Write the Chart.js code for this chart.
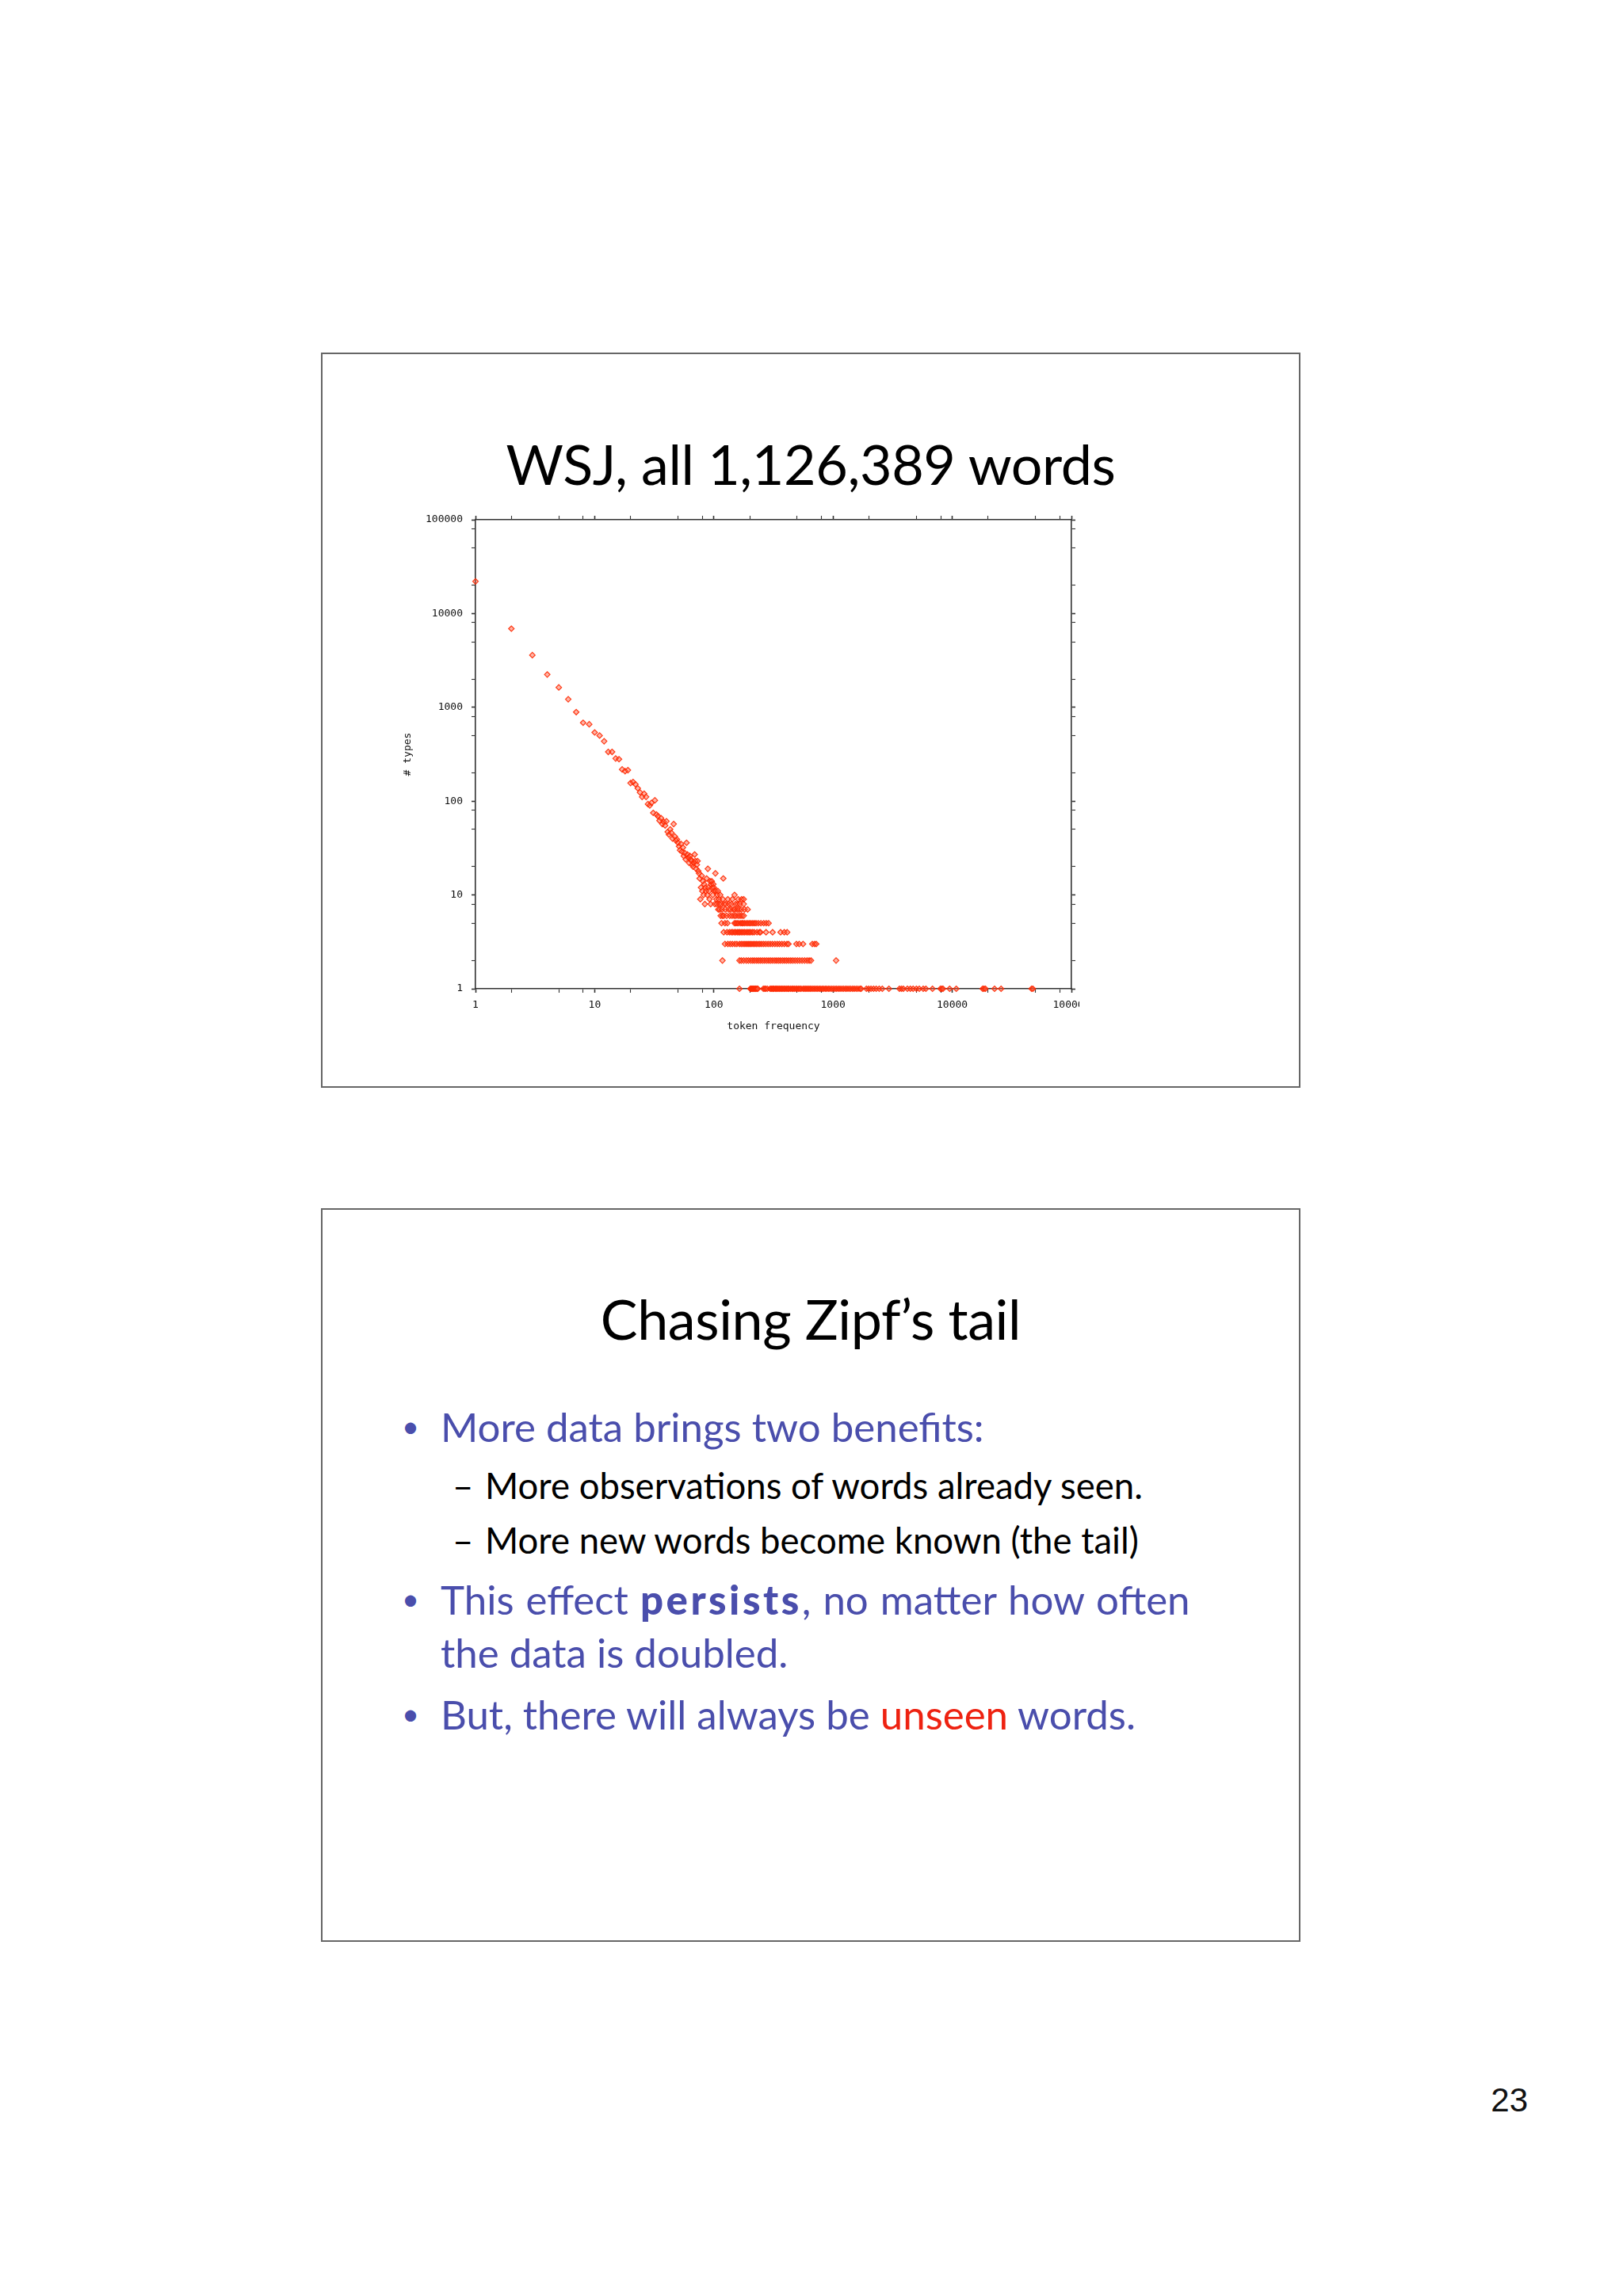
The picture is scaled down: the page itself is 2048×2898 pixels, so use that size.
<!DOCTYPE html>
<html>
<head>
<meta charset="utf-8">
<script src="https://cdn.jsdelivr.net/npm/chart.js@4.4.1/dist/chart.umd.min.js"></script>
<style>
html, body { margin: 0; padding: 0; background: #fff; }
body { width: 2048px; height: 2898px; position: relative; overflow: hidden; font-family: Lato, "Open Sans", sans-serif; }
.slide { position: absolute; left: 405px; width: 1236px; box-sizing: border-box; border: 2px solid #666; background: #fff; }
#s1 { top: 445px; height: 928px; }
#s2 { top: 1525px; height: 926px; }
.t { position: absolute; line-height: 1; white-space: nowrap; color: #000; }
.title { font-size: 70px; letter-spacing: -0.4px; left: 405px; width: 1236px; text-align: center; }
.blue { color: #4a4eac; }
.l1 { font-size: 51px; }
.l2 { font-size: 45.5px; }
.dot { font-size: 38px; }
.red { color: #ee2211; }
.heavy { font-weight: 900; letter-spacing: 3.5px; }
#chartBox { position: absolute; left: 500px; top: 620px; width: 862px; height: 700px; overflow: hidden; }
#pageNum { position: absolute; right: 120px; top: 2630px; font: 42px "Liberation Sans", Arial, sans-serif; line-height: 1; color: #111; }
</style>
</head>
<body>
<div class="slide" id="s1"></div>
<div class="slide" id="s2"></div>

<div class="t title" style="top:550px">WSJ, all 1,126,389 words</div>
<div id="chartBox"><canvas id="zipfChart" width="1000" height="700"></canvas></div>

<div class="t title" style="top:1629px">Chasing Zipf’s tail</div>
<div class="t dot blue" style="left:507px;top:1780px">•</div>
<div class="t l1 blue" style="left:556px;top:1775px">More data brings two benefits:</div>
<div class="t l2" style="left:571px;top:1852px">–</div>
<div class="t l2" style="left:612px;top:1852px">More observations of words already seen.</div>
<div class="t l2" style="left:571px;top:1921px">–</div>
<div class="t l2" style="left:612px;top:1921px">More new words become known (the tail)</div>
<div class="t dot blue" style="left:507px;top:1998px">•</div>
<div class="t l1 blue" style="left:556px;top:1993px;word-spacing:2px">This effect <span class="heavy">persists</span>, no matter how often</div>
<div class="t l1 blue" style="left:556px;top:2060px">the data is doubled.</div>
<div class="t dot blue" style="left:507px;top:2143px">•</div>
<div class="t l1 blue" style="left:556px;top:2138px">But, there will always be <span class="red">unseen</span> words.</div>

<div id="pageNum">23</div>

<script>
// token frequency -> number of word types with that frequency
const headFreq = [
    1, 2, 3, 4, 5, 6, 7, 8, 9, 10,
    11, 12, 13, 14, 15, 16, 17, 18, 19, 20,
    21, 22, 23, 24, 25, 26, 27, 28, 29, 30,
    31, 32, 33, 34, 35, 36, 37, 38, 39, 40,
    41, 42, 43, 44, 45, 46, 47, 48, 49, 50,
    51, 52, 53, 54, 55, 56, 57, 58, 59, 60,
    61, 62, 63, 64, 65, 66, 67, 68, 69, 70,
    71, 72, 73, 74, 75, 76, 77, 78, 79, 80,
    81, 82, 83, 84, 85, 86, 87, 88, 89, 90,
    91, 92, 93, 94, 95, 96, 97, 98, 99, 100,
    101, 102, 103, 104, 105, 106, 107, 108, 109, 110,
    111, 112, 113, 114, 115, 116, 117, 118, 119, 120
];
const headTypes = [
    22000, 6900, 3600, 2240, 1630, 1220, 890, 685, 660, 540,
    500, 435, 335, 335, 285, 280, 218, 209, 214, 156,
    160, 151, 137, 124, 111, 120, 111, 93, 90, 96,
    75, 102, 72, 69, 62, 66, 57, 60, 55, 61,
    47, 44, 50, 46, 40, 57, 42, 38, 39, 36,
    33, 30, 35, 29, 32, 26, 28, 24, 36, 27,
    25, 22, 26, 24, 23, 21, 20, 22, 27, 23,
    19, 21, 23, 18, 17, 15, 9, 12, 16, 11,
    14, 10, 13, 8, 12, 11, 15, 10, 19, 12,
    11, 9, 14, 8, 13, 14, 12, 10, 13, 12,
    11, 8, 17, 11, 9, 8, 10, 11, 7, 9,
    8, 7, 10, 6, 8, 5, 7, 6, 9, 15
];

// higher frequencies: bands of small type counts
const band10 = [149];
const band9 = [131, 143, 160, 171, 178];
const band8 = [122, 126, 134, 140, 152, 158, 165, 178];
const band7 = [125, 133, 138, 146, 150, 157, 163, 170, 181, 192];
const band6 = [121, 128, 136, 142, 148, 153, 160, 166, 172, 178];
const band5 = [124, 130, 149, 153, 157, 162, 168, 172, 176, 181, 187, 193, 199, 205, 212,
    219, 226, 236, 248, 262, 275, 288];
const band4 = [121, 129, 135, 140, 144, 149, 153, 158, 162, 166, 171, 176, 181, 187, 193,
    198, 204, 211, 218, 230, 241, 246, 274, 311, 363, 390, 412];
const band3 = [124, 131, 137, 143, 150, 156, 164, 170, 176, 182, 188, 194, 200, 206, 213,
    220, 227, 235, 243, 252, 262, 273, 285, 297, 310, 325, 340, 355, 372, 390,
    410, 423, 493, 520, 560, 670, 700, 723];
const band2 = [118, 164, 170, 178, 187, 195, 204, 212, 220, 229, 238, 247, 257, 267, 278,
    289, 300, 312, 325, 337, 350, 363, 378, 393, 408, 425, 442, 460, 480, 502,
    525, 550, 577, 605, 630, 653, 1060];
const band1 = [164, 202, 205, 208, 210, 214, 216, 220, 223, 226, 230, 234, 260, 267, 272,
    281, 296, 302, 307, 314, 319, 327, 333, 341, 347, 356, 363, 372, 380, 390,
    398, 409, 418, 427, 439, 451, 462, 473, 487, 499, 513, 526, 540, 560, 575,
    591, 606, 623, 640, 657, 678, 696, 718, 737, 761, 782, 808, 831, 859, 884,
    914, 941, 974, 1004, 1039, 1071, 1109, 1145, 1186, 1225, 1269, 1311, 1359, 1405, 1457,
    1507, 1563, 1619, 1681, 1722, 1905, 1990, 2082, 2188, 2302, 2439, 2590, 2943, 3607, 3750,
    3894, 4206, 4452, 4698, 5003, 5290, 5710, 6010, 6830, 7960, 8170, 8370, 9510, 10810, 18000,
    18500, 19000, 22650, 25700, 46300, 47500];

const tickValues = [1, 2, 5, 8, 10, 20, 50, 80, 100, 200, 500, 800, 1000, 2000, 5000, 8000,
    10000, 20000, 50000, 80000, 100000];
const tickLabels = ['1', '10', '100', '1000', '10000', '100000'];

function buildPoints() {
    let pts = headFreq.map((f, i) => ({ x: f, y: headTypes[i] }));
    const bands = [[10, band10], [9, band9], [8, band8], [7, band7], [6, band6],
        [5, band5], [4, band4], [3, band3], [2, band2], [1, band1]];
    bands.forEach(([n, freqs]) => {
        freqs.forEach(f => pts.push({ x: f, y: n }));
    });
    return pts;
}

const tickFont = { family: 'DejaVu Sans Mono', size: 13 };

function setTicks(scale) {
    scale.ticks = tickValues.map(v => ({ value: v, major: tickLabels.includes(String(v)) }));
}

function axis(position, size, showLabels, title) {
    const horizontal = position === 'top' || position === 'bottom';
    return {
        type: 'logarithmic',
        position: position,
        min: 1,
        max: 100000,
        afterBuildTicks: setTicks,
        afterFit: function(scale) {
            if (horizontal) scale.height = size; else scale.width = size;
        },
        grid: {
            display: true,
            drawOnChartArea: false,
            drawTicks: true,
            tickLength: 5,
            tickColor: '#333',
            tickWidth: ctx => (ctx.tick && tickLabels.includes(String(ctx.tick.value))) ? 1.6 : 1.1
        },
        border: { display: true, color: '#333', width: 1.6 },
        ticks: {
            display: showLabels,
            autoSkip: false,
            maxRotation: 0,
            minRotation: 0,
            padding: horizontal ? 8 : 11,
            color: '#111',
            font: tickFont,
            callback: v => tickLabels.includes(String(v)) ? String(v) : ''
        },
        title: title ? {
            display: true,
            text: title,
            color: '#111',
            font: tickFont,
            padding: horizontal ? { top: 0, bottom: 17 } : { top: 7, bottom: 0 }
        } : { display: false }
    };
}

const ctx = document.getElementById('zipfChart').getContext('2d');
const zipfChart = new Chart(ctx, {
    type: 'scatter',
    data: {
        datasets: [{
            label: 'WSJ',
            data: buildPoints(),
            pointStyle: 'rectRot',
            pointRadius: 3.5,
            borderWidth: 1.2,
            borderColor: 'rgba(255, 40, 0, 0.9)',
            backgroundColor: 'rgba(255, 90, 60, 0.45)',
            clip: false
        }]
    },
    options: {
        responsive: false,
        animation: false,
        layout: { padding: 0 },
        plugins: {
            legend: { display: false },
            tooltip: { enabled: false }
        },
        scales: {
            x: axis('bottom', 72, true, 'token frequency'),
            y: axis('left', 100, true, '# types'),
            x2: axis('top', 36, false, null),
            y2: axis('right', 148, false, null)
        }
    }
});
</script>
</body>
</html>
